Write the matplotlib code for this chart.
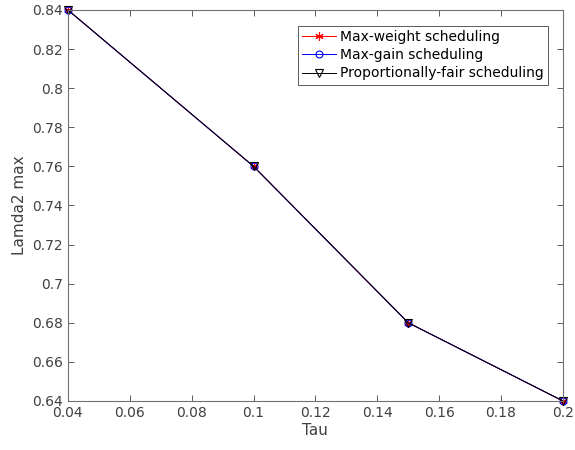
import matplotlib
matplotlib.use("Agg")
import matplotlib.pyplot as plt

# data
tau = [0.04, 0.1, 0.15, 0.2]
max_weight = [0.84, 0.76, 0.68, 0.64]
max_gain = [0.84, 0.76, 0.68, 0.64]
prop_fair = [0.84, 0.76, 0.68, 0.64]

xticks = [0.04, 0.06, 0.08, 0.1, 0.12, 0.14, 0.16, 0.18, 0.2]
yticks = [0.64, 0.66, 0.68, 0.7, 0.72, 0.74, 0.76, 0.78, 0.8, 0.82, 0.84]

fig = plt.figure(figsize=(5.75, 4.5), dpi=100)
ax = fig.add_axes([0.118, 0.109, 0.861, 0.869])

# matlab-style asterisk marker
ax.plot(tau, max_weight, color="red", marker=(6, 2, 0), markersize=6,
        markeredgewidth=0.8, linewidth=0.7, label="Max-weight scheduling", clip_on=False)
ax.plot(tau, max_gain, color="blue", marker="o", markersize=5, markerfacecolor="none",
        markeredgewidth=0.8, linewidth=0.7, label="Max-gain scheduling", clip_on=False)
ax.plot(tau, prop_fair, color="black", marker="v", markersize=6, markerfacecolor="none",
        markeredgewidth=0.8, linewidth=0.7, label="Proportionally-fair scheduling",
        clip_on=False)

ax.set_xlim(0.04, 0.2)
ax.set_ylim(0.64, 0.84)
ax.set_xticks(xticks)
ax.set_xticklabels([f"{v:g}" for v in xticks])
ax.set_yticks(yticks)
ax.set_yticklabels([f"{v:g}" for v in yticks])
ax.tick_params(direction="in", top=True, right=True, labelsize=10, colors="#404040",
               length=4, width=0.6)
for s in ax.spines.values():
    s.set_linewidth(0.8)
    s.set_color("#707070")

ax.set_xlabel("Tau", fontsize=11, color="#404040", labelpad=2)
ax.set_ylabel("Lamda2 max", fontsize=11, color="#404040", labelpad=4)

leg = ax.legend(loc="upper right", bbox_to_anchor=(0.97, 0.959), fontsize=10,
                fancybox=False, framealpha=1, edgecolor="#404040",
                borderpad=0.3, labelspacing=0.3, handlelength=2.45, handletextpad=0.3,
                borderaxespad=0)
leg.get_frame().set_linewidth(0.6)

fig.savefig("out.png", dpi=100)
